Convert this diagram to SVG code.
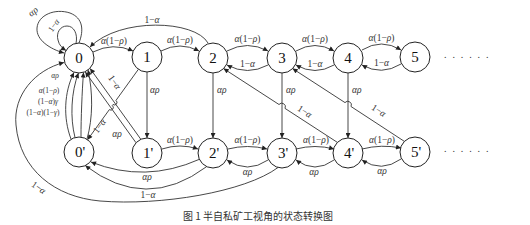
<svg xmlns="http://www.w3.org/2000/svg" width="530" height="225" viewBox="0 0 530 225">
<defs>
<marker id="ah" viewBox="0 0 10 10" refX="10" refY="5" markerWidth="6" markerHeight="5" markerUnits="userSpaceOnUse" orient="auto"><path d="M0,0 L10,5 L0,10 z" fill="#222"/></marker>
</defs>
<style>
.e{fill:none;stroke:#333;stroke-width:0.9;marker-end:url(#ah)}
.n circle{fill:#fff;stroke:#222;stroke-width:1}
.n text{font-family:"Liberation Serif",serif;font-size:15px;text-anchor:middle;fill:#111}
.l{font-family:"Liberation Serif",serif;font-size:9.5px;fill:#333;text-anchor:middle}
.s{font-size:7.5px}
.st{text-anchor:start}
.i{font-style:italic}
.cap{font-family:"Noto Sans CJK SC",sans-serif;font-size:10px;fill:#333;text-anchor:middle}
.dots{font-family:"Liberation Serif",serif;font-size:10px;fill:#333;letter-spacing:5.9px}
</style>
<rect width="530" height="225" fill="#fff"/>
<g id="nodes">
<g id="n0" class="n"><circle cx="79" cy="58" r="15"/><text x="79" y="63">0</text></g>
<g id="n1" class="n"><circle cx="147" cy="57" r="15"/><text x="147" y="62">1</text></g>
<g id="n2" class="n"><circle cx="213" cy="58" r="15"/><text x="213" y="63">2</text></g>
<g id="n3" class="n"><circle cx="282" cy="58" r="15"/><text x="282" y="63">3</text></g>
<g id="n4" class="n"><circle cx="348" cy="58" r="15"/><text x="348" y="63">4</text></g>
<g id="n5" class="n"><circle cx="415" cy="57" r="15"/><text x="415" y="62">5</text></g>
<g id="n0p" class="n"><circle cx="79" cy="152" r="15"/><text x="80" y="157">0'</text></g>
<g id="n1p" class="n"><circle cx="147" cy="153" r="15"/><text x="148" y="158">1'</text></g>
<g id="n2p" class="n"><circle cx="213" cy="153" r="15"/><text x="214" y="158">2'</text></g>
<g id="n3p" class="n"><circle cx="282" cy="153" r="15"/><text x="283" y="158">3'</text></g>
<g id="n4p" class="n"><circle cx="348" cy="153" r="15"/><text x="349" y="158">4'</text></g>
<g id="n5p" class="n"><circle cx="415" cy="152" r="15"/><text x="416" y="157">5'</text></g>
<text class="dots" x="444" y="58">......</text>
<text class="dots" x="444" y="152">......</text>
</g>
<g id="connectors">
<!-- self loops on 0 -->
<path class="e" d="M79,43 C84,30 83,18 70,13 C55,8 38,15 37,28 C36,40 50,49 64,53"/>
<path class="e" d="M76,43.5 C78,34 74,26 67,26 C60,26 56,33 58,40 C59,45 62,48 66,50.5"/>
<!-- 2 -> 0 top arc -->
<path class="e" d="M208,43 C195,20 120,17 90,47"/>
<!-- top row forward -->
<path class="e" d="M93,52 Q113,42 133,51"/>
<path class="e" d="M161,51 Q180,41 199,51"/>
<path class="e" d="M227,51 Q247.5,40 268,51"/>
<path class="e" d="M296,51 Q315,40 334,51"/>
<path class="e" d="M362,50 Q381.5,38 401,50"/>
<!-- top row back -->
<path class="e" d="M268,65 Q247.5,76 227,65"/>
<path class="e" d="M334,65 Q315,76 296,65"/>
<path class="e" d="M401,64 Q381.5,76 362,65"/>
<!-- verticals -->
<path class="e" d="M147,72 L147,138"/>
<path class="e" d="M213,73 L213,138"/>
<path class="e" d="M282,73 L282,138"/>
<path class="e" d="M348,73 L348,138"/>
<!-- bottom row forward -->
<path class="e" d="M162,149 Q180,143 198,149"/>
<path class="e" d="M228,149 Q247.5,144 267,149"/>
<path class="e" d="M296,149 Q315,144 334,149"/>
<path class="e" d="M362,149 Q381.5,144 401,148"/>
<!-- bottom row back -->
<path class="e" d="M268,160 Q247.5,174 227,160"/>
<path class="e" d="M334,160 Q315,174 296,160"/>
<path class="e" d="M401,159 Q381.5,173 362,160"/>
<!-- diagonals with hops -->
<path class="e" d="M337.4,142.4 L285,108.4 A3.6,3.6 0 0 0 279,104.5 L223.6,68.6"/>
<path class="e" d="M404.4,141.4 L351,106.5 A3.6,3.6 0 0 0 345,102.6 L292.6,68.6"/>
<!-- 1' -> 0 pair -->
<path class="e" d="M140.7,139.1 L90.1,68.5"/>
<path class="e" d="M135.9,142.6 L85.3,72"/>
<!-- 1 -> 0' with hops -->
<path class="e" d="M138.4,69.3 L115.94,100.44 A2.5,2.5 0 0 1 113.01,104.5 L112.25,105.55 A2.5,2.5 0 0 1 109.33,109.61 L87.6,139.7"/>
<!-- 0' -> 0 four arcs -->
<path class="e" d="M71,139 C63,118 64,92 74,72.5"/>
<path class="e" d="M75,137.5 C70,118 71,92 78.5,73"/>
<path class="e" d="M81,137 C81,118 82,92 83.5,72.5"/>
<path class="e" d="M87,139 C93,118 93,92 88,70"/>
<!-- 2' -> 0' -->
<path class="e" d="M199.4,159.3 Q145,183.5 91,162"/>
<path class="e" d="M206.7,166.6 Q146,212 85.3,165.6"/>
<!-- 3' -> 0 big curve -->
<path class="e" d="M278,167.5 C245,192 160,206 100,201 C55,197 20,170 16,125 C13,95 35,70 64,62.5"/>
</g>
<g id="labels">
<text class="l" transform="translate(35,14) rotate(-40)"><tspan class="i">αρ</tspan></text>
<text class="l" style="font-size:8.5px" transform="translate(56,27) rotate(-55)">1−<tspan class="i">α</tspan></text>
<text class="l" x="152" y="23">1−<tspan class="i">α</tspan></text>
<text class="l" x="114" y="44"><tspan class="i">α</tspan>(1−<tspan class="i">ρ</tspan>)</text>
<text class="l" x="180" y="43"><tspan class="i">α</tspan>(1−<tspan class="i">ρ</tspan>)</text>
<text class="l" x="247.5" y="42"><tspan class="i">α</tspan>(1−<tspan class="i">ρ</tspan>)</text>
<text class="l" x="315" y="42"><tspan class="i">α</tspan>(1−<tspan class="i">ρ</tspan>)</text>
<text class="l" x="381.5" y="41"><tspan class="i">α</tspan>(1−<tspan class="i">ρ</tspan>)</text>
<text class="l" x="247.5" y="67">1−<tspan class="i">α</tspan></text>
<text class="l" x="315" y="67">1−<tspan class="i">α</tspan></text>
<text class="l" x="381.5" y="66">1−<tspan class="i">α</tspan></text>
<text class="l st" x="150" y="93"><tspan class="i">αρ</tspan></text>
<text class="l st" x="217" y="93"><tspan class="i">αρ</tspan></text>
<text class="l st" x="286" y="93"><tspan class="i">αρ</tspan></text>
<text class="l st" x="352" y="93"><tspan class="i">αρ</tspan></text>
<text class="l" x="180" y="142.5"><tspan class="i">α</tspan>(1−<tspan class="i">ρ</tspan>)</text>
<text class="l" x="247.5" y="143"><tspan class="i">α</tspan>(1−<tspan class="i">ρ</tspan>)</text>
<text class="l" x="316" y="143"><tspan class="i">α</tspan>(1−<tspan class="i">ρ</tspan>)</text>
<text class="l" x="382" y="143"><tspan class="i">α</tspan>(1−<tspan class="i">ρ</tspan>)</text>
<text class="l" x="247.5" y="175"><tspan class="i">αρ</tspan></text>
<text class="l" x="314" y="175"><tspan class="i">αρ</tspan></text>
<text class="l" x="382" y="174"><tspan class="i">αρ</tspan></text>
<text class="l" transform="translate(303,114) rotate(33)">1−<tspan class="i">α</tspan></text>
<text class="l" transform="translate(377,113) rotate(33)">1−<tspan class="i">α</tspan></text>
<text class="l" transform="translate(112,84) rotate(55)">1−<tspan class="i">α</tspan></text>
<text class="l" transform="translate(102,128) rotate(-54)">1−<tspan class="i">α</tspan></text>
<text class="l" x="117" y="137"><tspan class="i">αρ</tspan></text>
<text class="l s" x="55" y="78"><tspan class="i">αρ</tspan></text>
<text class="l s" x="49" y="93"><tspan class="i">α</tspan>(1−<tspan class="i">ρ</tspan>)</text>
<text class="l s" x="48" y="103.5">(1−<tspan class="i">α</tspan>)<tspan class="i">γ</tspan></text>
<text class="l s" x="43" y="114.5">(1−<tspan class="i">α</tspan>)(1−<tspan class="i">γ</tspan>)</text>
<text class="l" x="147" y="180"><tspan class="i">αρ</tspan></text>
<text class="l" x="148" y="198">1−<tspan class="i">α</tspan></text>
<text class="l" transform="translate(37,190) rotate(35)">1−<tspan class="i">α</tspan></text>
<text class="cap" x="258" y="219.5">图 1  半自私矿工视角的状态转换图</text>
</g>
</svg>
